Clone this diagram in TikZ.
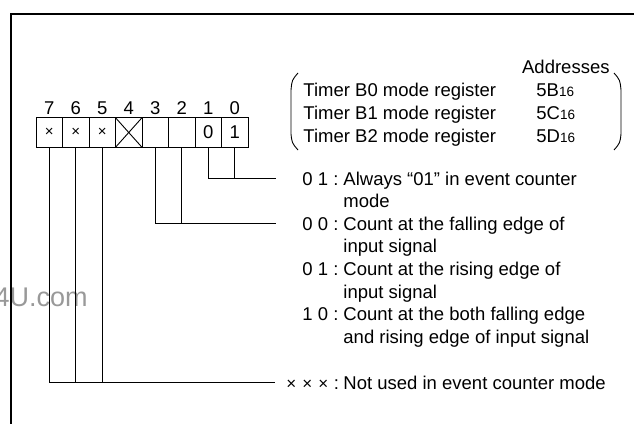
\documentclass[tikz,border=0pt]{standalone}
\usepackage{fontspec}
\setmainfont{Liberation Sans}
\begin{document}
\begin{tikzpicture}[x=1pt,y=-1pt,line width=0.9pt,
  txt/.style={inner sep=0pt,anchor=base west,font=\fontsize{18.5}{22}\selectfont},
  bitbox/.style={draw,minimum width=26.5pt,minimum height=29.6pt,inner sep=0pt,outer sep=0pt,font=\fontsize{18.5}{22}\selectfont},
  frame/.style={line width=2.2pt},
  wm/.style={inner sep=0pt,text=black!40,font=\fontsize{27}{27}\selectfont}]
\useasboundingbox (0,0) rectangle (634,423);
\def\bl{6.6}
% watermark
\node[wm,anchor=east] (wmark) at (88,297) {4U.com};
% frame
\draw[frame] (11,440) -- (11,14) -- (650,14);
% register boxes
\foreach \i/\c in {7/{\fontsize{15}{15}\selectfont ×},6/{\fontsize{15}{15}\selectfont ×},5/{\fontsize{15}{15}\selectfont ×},4/{},3/{},2/{},1/0,0/1}{
  \node[bitbox] (b\i) at ({36+26.5*(7-\i)+13.25},132.5) {\c};
  \node[inner sep=0pt,font=\fontsize{18.5}{22}\selectfont] (n\i) at ({36+26.5*(7-\i)+13.25},108) {\i};
}
\draw (b4.north west) -- (b4.south east) (b4.north east) -- (b4.south west);
% connectors
\coordinate (j10) at (276,178.5);
\coordinate (j32) at (276,223.5);
\coordinate (j765) at (275,382.5);
\draw (b1.south) |- (j10);
\draw (b0.south) -- (b0.south |- j10);
\draw (b3.south) |- (j32);
\draw (b2.south) -- (b2.south |- j32);
\draw (b7.south) |- (j765);
\draw (b6.south) -- (b6.south |- j765);
\draw (b5.south) -- (b5.south |- j765);
% brackets
\draw (298,73) .. controls (292,80) .. (291,90) -- (291,134) .. controls (292,143) .. (298,150);
\draw (614,73) .. controls (620,80) .. (621,90) -- (621,134) .. controls (620,143) .. (614,150);
% register names
\node[txt,anchor=base east] (addr) at (610,67+\bl) {Addresses};
\node[txt] (t0) at (303,90+\bl) {Timer B0 mode register};
\node[txt] (t1) at (303,113+\bl) {Timer B1 mode register};
\node[txt] (t2) at (303,136+\bl) {Timer B2 mode register};
\node[txt] (a0) at (536,90+\bl) {5B{\fontsize{13.5}{13.5}\selectfont 16}};
\node[txt] (a1) at (536,113+\bl) {5C{\fontsize{13.5}{13.5}\selectfont 16}};
\node[txt] (a2) at (536,136+\bl) {5D{\fontsize{13.5}{13.5}\selectfont 16}};
% descriptions
\node[txt] (k1) at (302,178.5+\bl) {0 1 :};
\node[txt] (d1) at (343,178.5+\bl) {Always “01” in event counter};
\node[txt] (d1b) at (343,201.1+\bl) {mode};
\node[txt] (k2) at (302,223.7+\bl) {0 0 :};
\node[txt] (d2) at (343,223.7+\bl) {Count at the falling edge of};
\node[txt] (d2b) at (343,246.3+\bl) {input signal};
\node[txt] (k3) at (302,268.9+\bl) {0 1 :};
\node[txt] (d3) at (343,268.9+\bl) {Count at the rising edge of};
\node[txt] (d3b) at (343,291.5+\bl) {input signal};
\node[txt] (k4) at (302,314.1+\bl) {1 0 :};
\node[txt] (d4) at (343,314.1+\bl) {Count at the both falling edge};
\node[txt] (d4b) at (343,336.7+\bl) {and rising edge of input signal};
\node[txt] (k5) at (286,382.5+\bl) {{\fontsize{17}{17}\selectfont ×\hspace{6pt}×\hspace{6pt}×}};
\node[txt] (k5c) at (333.5,382.5+\bl) {:};
\node[txt] (d5) at (343,382.5+\bl) {Not used in event counter mode};
\end{tikzpicture}
\end{document}
